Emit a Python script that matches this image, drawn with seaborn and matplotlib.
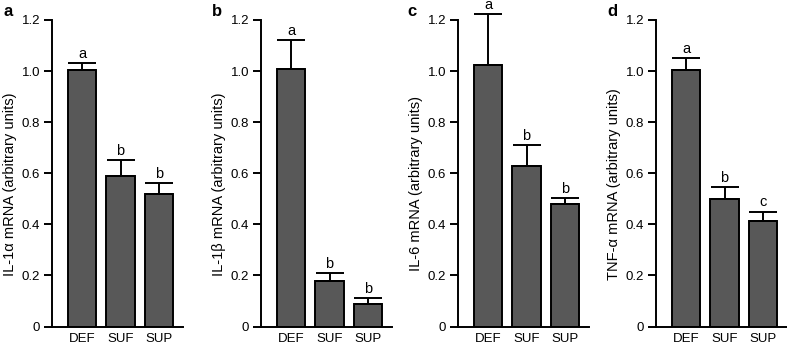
import numpy as np
import pandas as pd
import matplotlib
matplotlib.use('Agg')
import matplotlib.pyplot as plt
import seaborn as sns

groups = ['DEF', 'SUF', 'SUP']

il1a_mean = [1.005, 0.59, 0.52]
il1a_err = [0.025, 0.06, 0.04]
il1b_mean = [1.01, 0.18, 0.09]
il1b_err = [0.11, 0.03, 0.02]
il6_mean = [1.025, 0.63, 0.48]
il6_err = [0.20, 0.08, 0.022]
tnf_mean = [1.005, 0.50, 0.415]
tnf_err = [0.045, 0.045, 0.035]

letters_a = ['a', 'b', 'b']
letters_b = ['a', 'b', 'b']
letters_c = ['a', 'b', 'b']
letters_d = ['a', 'b', 'c']

ylabels = ['IL-1\u03b1 mRNA (arbitrary units)', 'IL-1\u03b2 mRNA (arbitrary units)',
           'IL-6 mRNA (arbitrary units)', 'TNF-\u03b1 mRNA (arbitrary units)']
panel_tags = ['a', 'b', 'c', 'd']

sns.set_style('ticks', {'axes.edgecolor': 'black', 'xtick.color': 'black',
                        'ytick.color': 'black', 'text.color': 'black',
                        'axes.labelcolor': 'black'})
plt.rcParams['font.family'] = ['Liberation Sans', 'DejaVu Sans']

W, H = 787, 345
fig = plt.figure(figsize=(W / 100, H / 100), dpi=100)

# axes boxes in pixels: left spine x
lefts = [52, 261, 458, 656]
ax_w = 131
y0_px, y1_px = 326.5, 20  # 0 and 1.2
tag_x = [3, 212, 407, 607]

panels = [(il1a_mean, il1a_err, letters_a),
          (il1b_mean, il1b_err, letters_b),
          (il6_mean, il6_err, letters_c),
          (tnf_mean, tnf_err, letters_d)]

BAR = '#585858'
for i, (means, errs, lets) in enumerate(panels):
    ax = fig.add_axes([lefts[i] / W, (H - y0_px) / H, ax_w / W, (y0_px - y1_px) / H])
    df = pd.DataFrame({'group': groups, 'value': means})
    sns.barplot(data=df, x='group', y='value', ax=ax, color=BAR, saturation=1,
                edgecolor='black', linewidth=1.4, width=0.74, errorbar=None)
    x = np.arange(len(groups))
    ax.errorbar(x, means, yerr=[np.zeros(3), errs], fmt='none', ecolor='black',
                elinewidth=1.4, capsize=10, capthick=1.4, clip_on=False, zorder=1)
    for xi, m, e, l in zip(x, means, errs, lets):
        ax.annotate(l, (xi, m + e), xytext=(0, 1.5), textcoords='offset points',
                    ha='center', va='bottom', fontsize=10.5, annotation_clip=False)
    ax.set_xlim(-0.78, 2.62)
    ax.set_ylim(0, 1.2)
    ax.set_yticks([0, 0.2, 0.4, 0.6, 0.8, 1.0, 1.2])
    ax.set_yticklabels(['0', '0.2', '0.4', '0.6', '0.8', '1.0', '1.2'])
    ax.set_xlabel('')
    ax.set_ylabel(ylabels[i], fontsize=10.5)
    ax.yaxis.set_label_coords(-0.265, 0.465)
    ax.tick_params(axis='y', direction='out', length=6, width=1.4, labelsize=9.5, pad=2.5)
    ax.tick_params(axis='x', length=0, labelsize=9.5, pad=5)
    for sp in ['top', 'right']:
        ax.spines[sp].set_visible(False)
    for sp in ['left', 'bottom']:
        ax.spines[sp].set_linewidth(1.4)
    fig.text(tag_x[i] / W, 1 - 4 / H, panel_tags[i], ha='left', va='top',
             fontsize=12, fontweight='bold')

fig.savefig('out.png', dpi=100)
